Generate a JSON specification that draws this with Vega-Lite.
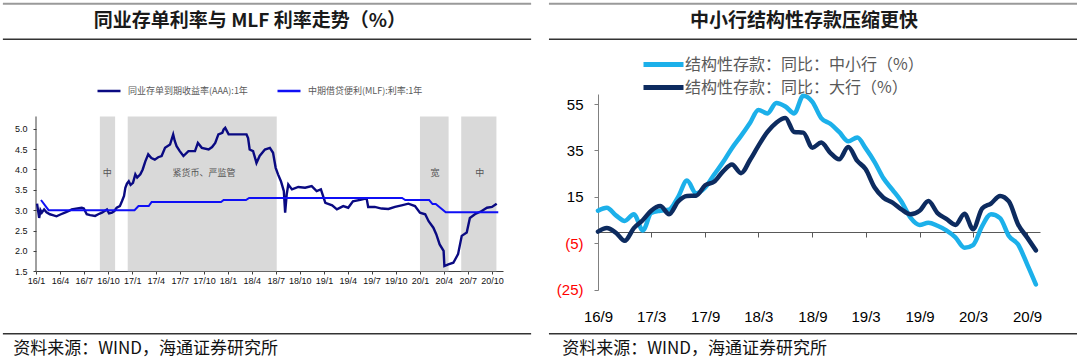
{
  "$schema": "https://vega.github.io/schema/vega-lite/v6.json",
  "autosize": {"type": "pad"},
  "padding": {"left": 1, "top": 2, "right": 2, "bottom": 2},
  "background": "white",
  "bounds": "flush",
  "spacing": 95,
  "resolve": {"scale": {"color": "independent", "x": "independent", "y": "independent"}, "legend": {"color": "independent"}},
  "config": {
    "view": {"stroke": null},
    "axis": {"grid": false, "title": null, "labelFont": "Liberation Sans", "labelOverlap": false, "labelBound": false, "labelSeparation": 0},
    "legend": {"labelFont": "Noto Sans CJK SC"}
  },
  "datasets": {
    "bands": [
      {"start": "2016-08-31", "end": "2016-10-28"},
      {"start": "2016-12-15", "end": "2018-07-05"},
      {"start": "2020-01-01", "end": "2020-04-19"},
      {"start": "2020-06-06", "end": "2020-10-18"}
    ],
    "notes": [
      {"date": "2016-09-28", "label": "中"},
      {"date": "2017-10-01", "label": "紧货币、严监管"},
      {"date": "2020-02-27", "label": "宽"},
      {"date": "2020-08-16", "label": "中"}
    ],
    "ncd": [
      {"date": "2016-01-05", "rate": 3.16}, {"date": "2016-01-13", "rate": 2.81}, {"date": "2016-01-18", "rate": 3.0},
      {"date": "2016-01-23", "rate": 2.94}, {"date": "2016-02-01", "rate": 3.02}, {"date": "2016-02-10", "rate": 2.95},
      {"date": "2016-02-23", "rate": 2.9}, {"date": "2016-03-05", "rate": 2.88}, {"date": "2016-03-19", "rate": 2.85},
      {"date": "2016-04-05", "rate": 2.9}, {"date": "2016-04-20", "rate": 2.94}, {"date": "2016-05-05", "rate": 2.98},
      {"date": "2016-05-16", "rate": 3.02}, {"date": "2016-06-01", "rate": 3.04}, {"date": "2016-06-23", "rate": 3.06},
      {"date": "2016-07-01", "rate": 3.04}, {"date": "2016-07-12", "rate": 2.9}, {"date": "2016-07-25", "rate": 2.88},
      {"date": "2016-08-13", "rate": 2.86}, {"date": "2016-08-25", "rate": 2.9}, {"date": "2016-09-08", "rate": 2.94},
      {"date": "2016-09-27", "rate": 3.02}, {"date": "2016-10-05", "rate": 2.92}, {"date": "2016-10-16", "rate": 2.94},
      {"date": "2016-10-25", "rate": 2.98}, {"date": "2016-11-03", "rate": 3.06}, {"date": "2016-11-15", "rate": 3.1},
      {"date": "2016-11-23", "rate": 3.22}, {"date": "2016-12-01", "rate": 3.35}, {"date": "2016-12-06", "rate": 3.55},
      {"date": "2016-12-12", "rate": 3.65}, {"date": "2016-12-19", "rate": 3.71}, {"date": "2016-12-26", "rate": 3.62},
      {"date": "2017-01-04", "rate": 3.67}, {"date": "2017-01-13", "rate": 3.88}, {"date": "2017-01-20", "rate": 3.8},
      {"date": "2017-02-01", "rate": 3.88}, {"date": "2017-02-10", "rate": 4.0}, {"date": "2017-02-20", "rate": 4.2},
      {"date": "2017-03-03", "rate": 4.37}, {"date": "2017-03-15", "rate": 4.28}, {"date": "2017-03-28", "rate": 4.24},
      {"date": "2017-04-10", "rate": 4.3}, {"date": "2017-04-23", "rate": 4.33}, {"date": "2017-05-06", "rate": 4.53},
      {"date": "2017-05-25", "rate": 4.61}, {"date": "2017-06-06", "rate": 4.86}, {"date": "2017-06-12", "rate": 4.7},
      {"date": "2017-06-19", "rate": 4.57}, {"date": "2017-07-01", "rate": 4.45}, {"date": "2017-07-15", "rate": 4.33},
      {"date": "2017-08-03", "rate": 4.45}, {"date": "2017-08-28", "rate": 4.45}, {"date": "2017-09-08", "rate": 4.65},
      {"date": "2017-09-23", "rate": 4.53}, {"date": "2017-10-19", "rate": 4.49}, {"date": "2017-11-01", "rate": 4.55},
      {"date": "2017-11-13", "rate": 4.65}, {"date": "2017-11-25", "rate": 4.86}, {"date": "2017-12-10", "rate": 4.9},
      {"date": "2017-12-15", "rate": 4.98}, {"date": "2017-12-21", "rate": 5.02}, {"date": "2018-01-03", "rate": 4.86},
      {"date": "2018-01-28", "rate": 4.86}, {"date": "2018-03-12", "rate": 4.86}, {"date": "2018-03-18", "rate": 4.77},
      {"date": "2018-03-24", "rate": 4.49}, {"date": "2018-04-06", "rate": 4.45}, {"date": "2018-04-19", "rate": 4.16},
      {"date": "2018-05-01", "rate": 4.33}, {"date": "2018-05-21", "rate": 4.49}, {"date": "2018-06-09", "rate": 4.53},
      {"date": "2018-06-21", "rate": 4.41}, {"date": "2018-07-01", "rate": 4.04}, {"date": "2018-07-10", "rate": 3.88},
      {"date": "2018-07-21", "rate": 3.71}, {"date": "2018-08-01", "rate": 3.47}, {"date": "2018-08-06", "rate": 2.94},
      {"date": "2018-08-12", "rate": 3.39}, {"date": "2018-08-18", "rate": 3.63}, {"date": "2018-09-01", "rate": 3.51},
      {"date": "2018-09-25", "rate": 3.57}, {"date": "2018-10-21", "rate": 3.55}, {"date": "2018-11-15", "rate": 3.59},
      {"date": "2018-12-04", "rate": 3.47}, {"date": "2018-12-20", "rate": 3.51}, {"date": "2019-01-06", "rate": 3.18},
      {"date": "2019-02-01", "rate": 3.12}, {"date": "2019-02-19", "rate": 3.02}, {"date": "2019-03-15", "rate": 3.1},
      {"date": "2019-04-03", "rate": 3.06}, {"date": "2019-04-21", "rate": 3.22}, {"date": "2019-05-23", "rate": 3.26},
      {"date": "2019-06-12", "rate": 3.29}, {"date": "2019-06-18", "rate": 3.08}, {"date": "2019-07-13", "rate": 3.08},
      {"date": "2019-08-08", "rate": 3.04}, {"date": "2019-09-03", "rate": 3.03}, {"date": "2019-09-28", "rate": 3.08},
      {"date": "2019-10-23", "rate": 3.12}, {"date": "2019-11-18", "rate": 3.16}, {"date": "2019-12-13", "rate": 3.1},
      {"date": "2020-01-01", "rate": 2.94}, {"date": "2020-01-21", "rate": 2.9}, {"date": "2020-02-03", "rate": 2.73},
      {"date": "2020-02-21", "rate": 2.57}, {"date": "2020-03-03", "rate": 2.41}, {"date": "2020-03-16", "rate": 2.16},
      {"date": "2020-03-31", "rate": 2.0}, {"date": "2020-04-03", "rate": 1.63}, {"date": "2020-04-18", "rate": 1.67},
      {"date": "2020-05-07", "rate": 1.71}, {"date": "2020-05-25", "rate": 1.92}, {"date": "2020-06-08", "rate": 2.37},
      {"date": "2020-06-27", "rate": 2.45}, {"date": "2020-07-09", "rate": 2.81}, {"date": "2020-07-28", "rate": 2.9},
      {"date": "2020-08-23", "rate": 2.98}, {"date": "2020-09-12", "rate": 3.06}, {"date": "2020-10-01", "rate": 3.08},
      {"date": "2020-10-19", "rate": 3.16}
    ],
    "mlf": [
      {"date": "2016-01-20", "rate": 3.25}, {"date": "2016-02-18", "rate": 3.0}, {"date": "2017-01-10", "rate": 3.0},
      {"date": "2017-01-25", "rate": 3.1}, {"date": "2017-03-05", "rate": 3.1}, {"date": "2017-03-16", "rate": 3.2},
      {"date": "2017-12-05", "rate": 3.2}, {"date": "2017-12-15", "rate": 3.25}, {"date": "2018-03-10", "rate": 3.25},
      {"date": "2018-03-22", "rate": 3.3}, {"date": "2019-10-25", "rate": 3.3}, {"date": "2019-11-06", "rate": 3.25},
      {"date": "2020-02-05", "rate": 3.25}, {"date": "2020-02-18", "rate": 3.15}, {"date": "2020-03-01", "rate": 3.15},
      {"date": "2020-04-08", "rate": 2.95}, {"date": "2020-10-25", "rate": 2.95}
    ],
    "deposits": [
      {"date": "2016-09-01", "small": 9, "large": 0}, {"date": "2016-10-01", "small": 10.3, "large": 1.5},
      {"date": "2016-11-01", "small": 7, "large": -0.5}, {"date": "2016-12-01", "small": 4.6, "large": -4},
      {"date": "2017-01-01", "small": 7.5, "large": 1.5}, {"date": "2017-02-01", "small": 0.5, "large": 5},
      {"date": "2017-03-01", "small": 8, "large": 9}, {"date": "2017-04-01", "small": 9, "large": 11},
      {"date": "2017-05-01", "small": 9.5, "large": 7.5}, {"date": "2017-06-01", "small": 15, "large": 13},
      {"date": "2017-07-01", "small": 22, "large": 15.4}, {"date": "2017-08-01", "small": 16.5, "large": 15.5},
      {"date": "2017-09-01", "small": 19, "large": 20}, {"date": "2017-10-01", "small": 24.5, "large": 21.5},
      {"date": "2017-11-01", "small": 30, "large": 26}, {"date": "2017-12-01", "small": 36, "large": 29},
      {"date": "2018-01-01", "small": 41.3, "large": 25.2}, {"date": "2018-02-01", "small": 47, "large": 31},
      {"date": "2018-03-01", "small": 52.5, "large": 37}, {"date": "2018-04-01", "small": 51, "large": 43},
      {"date": "2018-05-01", "small": 55.5, "large": 47}, {"date": "2018-06-01", "small": 54, "large": 49},
      {"date": "2018-07-01", "small": 51, "large": 43}, {"date": "2018-08-01", "small": 58.6, "large": 42.7},
      {"date": "2018-09-01", "small": 56, "large": 36.2}, {"date": "2018-10-01", "small": 49, "large": 38.4},
      {"date": "2018-11-01", "small": 46.5, "large": 34}, {"date": "2018-12-01", "small": 43, "large": 31.2},
      {"date": "2019-01-01", "small": 39, "large": 36.5}, {"date": "2019-02-01", "small": 40.6, "large": 30.5},
      {"date": "2019-03-01", "small": 36, "large": 27}, {"date": "2019-04-01", "small": 30, "large": 19},
      {"date": "2019-05-01", "small": 23, "large": 14.6}, {"date": "2019-06-01", "small": 18, "large": 12.5},
      {"date": "2019-07-01", "small": 13, "large": 9.6}, {"date": "2019-08-01", "small": 6, "large": 7.5},
      {"date": "2019-09-01", "small": 2.9, "large": 9}, {"date": "2019-10-01", "small": 3.8, "large": 13.2},
      {"date": "2019-11-01", "small": 2.5, "large": 8}, {"date": "2019-12-01", "small": 0.5, "large": 5.5},
      {"date": "2020-01-01", "small": -2.5, "large": 2.9}, {"date": "2020-02-01", "small": -7, "large": 7.7},
      {"date": "2020-03-01", "small": -5.8, "large": 1}, {"date": "2020-04-01", "small": 2.4, "large": 10},
      {"date": "2020-05-01", "small": 7.5, "large": 12.1}, {"date": "2020-06-01", "small": 5.8, "large": 15.4},
      {"date": "2020-07-01", "small": -1.9, "large": 13}, {"date": "2020-08-01", "small": -5.5, "large": 3.2},
      {"date": "2020-09-01", "small": -14, "large": -2.5}, {"date": "2020-10-01", "small": -22.8, "large": -8.1}
    ]
  },
  "hconcat": [
    {
      "width": 467,
      "height": 196,
      "layer": [
        {
          "data": {"name": "bands"},
          "mark": {"type": "rect", "color": "#D9D9D9"},
          "encoding": {
            "x": {
              "field": "start", "type": "temporal",
              "scale": {"type": "utc", "domain": [{"year": 2016, "month": 1, "date": 1, "utc": true}, {"year": 2020, "month": 11, "date": 12, "utc": true}]}
            },
            "x2": {"field": "end"},
            "y": {
              "datum": 1.5, "type": "quantitative",
              "scale": {"domain": [1.041, 5.852], "nice": false, "zero": false}
            },
            "y2": {"datum": 5.3}
          }
        },
        {
          "data": {"values": [{}]},
          "mark": {"type": "rule", "color": "#404040", "strokeWidth": 1},
          "encoding": {
            "x": {"datum": {"year": 2016, "month": 1, "date": 1, "utc": true}, "type": "temporal"},
            "y": {"datum": 1.5, "type": "quantitative"},
            "y2": {"datum": 5.3}
          }
        },
        {
          "data": {"name": "notes"},
          "mark": {"type": "text", "font": "Noto Sans CJK SC", "fontSize": 9, "color": "#555555"},
          "encoding": {
            "x": {"field": "date", "type": "temporal"},
            "y": {"datum": 3.92, "type": "quantitative"},
            "text": {"field": "label"}
          }
        },
        {
          "data": {"name": "ncd"},
          "mark": {"type": "line", "strokeWidth": 2.4},
          "encoding": {
            "x": {
              "field": "date", "type": "temporal",
              "axis": {
                "values": [
                  {"year": 2016, "month": 1, "date": 1, "utc": true}, {"year": 2016, "month": 4, "date": 1, "utc": true},
                  {"year": 2016, "month": 7, "date": 1, "utc": true}, {"year": 2016, "month": 10, "date": 1, "utc": true},
                  {"year": 2017, "month": 1, "date": 1, "utc": true}, {"year": 2017, "month": 4, "date": 1, "utc": true},
                  {"year": 2017, "month": 7, "date": 1, "utc": true}, {"year": 2017, "month": 10, "date": 1, "utc": true},
                  {"year": 2018, "month": 1, "date": 1, "utc": true}, {"year": 2018, "month": 4, "date": 1, "utc": true},
                  {"year": 2018, "month": 7, "date": 1, "utc": true}, {"year": 2018, "month": 10, "date": 1, "utc": true},
                  {"year": 2019, "month": 1, "date": 1, "utc": true}, {"year": 2019, "month": 4, "date": 1, "utc": true},
                  {"year": 2019, "month": 7, "date": 1, "utc": true}, {"year": 2019, "month": 10, "date": 1, "utc": true},
                  {"year": 2020, "month": 1, "date": 1, "utc": true}, {"year": 2020, "month": 4, "date": 1, "utc": true},
                  {"year": 2020, "month": 7, "date": 1, "utc": true}, {"year": 2020, "month": 10, "date": 1, "utc": true}
                ],
                "tickCount": 40,
                "format": "%y/%-m",
                "offset": -19,
                "tickSize": 3,
                "tickColor": "#404040",
                "domainColor": "#404040",
                "labelFontSize": 9,
                "labelColor": "#111111",
                "labelPadding": 2,
                "labelFlush": false,
                "labelOverlap": false
              }
            },
            "y": {
              "field": "rate", "type": "quantitative",
              "axis": {
                "values": [1.5, 2, 2.5, 3, 3.5, 4, 4.5, 5],
                "tickCount": 20,
                "format": ".1f",
                "domain": false,
                "tickSize": 3,
                "tickColor": "#404040",
                "labelFontSize": 9,
                "labelColor": "#111111",
                "labelPadding": 6,
                "labelOverlap": false
              }
            },
            "color": {
              "datum": "同业存单到期收益率(AAA):1年",
              "scale": {"domain": ["同业存单到期收益率(AAA):1年", "中期借贷便利(MLF):利率:1年"], "range": ["#0A0A82", "#0F0FF5"]},
              "legend": {
                "orient": "none", "legendX": 60, "legendY": -16, "direction": "horizontal",
                "title": null, "padding": 0,
                "symbolType": "stroke", "symbolSize": 529, "symbolStrokeWidth": 2.5,
                "labelFontSize": 9, "labelColor": "#595959", "labelOffset": 6, "columnPadding": 24, "labelLimit": 300
              }
            }
          }
        },
        {
          "data": {"name": "mlf"},
          "mark": {"type": "line", "strokeWidth": 2},
          "encoding": {
            "x": {"field": "date", "type": "temporal"},
            "y": {"field": "rate", "type": "quantitative"},
            "color": {"datum": "中期借贷便利(MLF):利率:1年"}
          }
        },
        {
          "data": {"values": [{}]},
          "layer": [
            {
              "mark": {"type": "rule", "color": "#9A9A9A", "strokeWidth": 2},
              "encoding": {
                "x": {"datum": {"year": 2015, "month": 8, "date": 28, "utc": true}, "type": "temporal"},
                "x2": {"datum": {"year": 2021, "month": 2, "date": 27, "utc": true}},
                "y": {"datum": 8.068, "type": "quantitative"}
              }
            },
            {
              "mark": {"type": "rule", "color": "#333333", "strokeWidth": 1.5},
              "encoding": {
                "x": {"datum": {"year": 2015, "month": 8, "date": 28, "utc": true}, "type": "temporal"},
                "x2": {"datum": {"year": 2021, "month": 2, "date": 27, "utc": true}},
                "y": {"datum": 7.195, "type": "quantitative"}
              }
            },
            {
              "mark": {"type": "rule", "color": "#333333", "strokeWidth": 1.5},
              "encoding": {
                "x": {"datum": {"year": 2015, "month": 8, "date": 28, "utc": true}, "type": "temporal"},
                "x2": {"datum": {"year": 2021, "month": 2, "date": 27, "utc": true}},
                "y": {"datum": -0.032, "type": "quantitative"}
              }
            },
            {
              "mark": {"type": "text", "font": "Noto Sans CJK SC", "fontSize": 19, "fontWeight": "bold", "color": "#1A1A1A", "align": "center", "baseline": "middle"},
              "encoding": {
                "x": {"datum": {"year": 2018, "month": 3, "date": 25, "utc": true}, "type": "temporal"},
                "y": {"datum": 7.644, "type": "quantitative"},
                "text": {"value": "同业存单利率与 MLF 利率走势（%）"}
              }
            },
            {
              "mark": {"type": "text", "font": "Noto Sans CJK SC", "fontSize": 17, "color": "#111111", "align": "left", "baseline": "middle"},
              "encoding": {
                "x": {"datum": {"year": 2015, "month": 10, "date": 6, "utc": true}, "type": "temporal"},
                "y": {"datum": -0.407, "type": "quantitative"},
                "text": {"value": "资料来源：WIND，海通证券研究所"}
              }
            }
          ]
        }
      ]
    },
    {
      "width": 442,
      "height": 196,
      "layer": [
        {
          "data": {"name": "deposits"},
          "mark": {"type": "line", "strokeWidth": 4.5, "strokeCap": "round", "strokeJoin": "round", "interpolate": "monotone"},
          "encoding": {
            "x": {
              "field": "date", "type": "temporal",
              "scale": {"type": "utc", "domain": [{"year": 2016, "month": 9, "date": 1, "utc": true}, {"year": 2020, "month": 10, "date": 15, "utc": true}]},
              "axis": {
                "values": [
                  {"year": 2016, "month": 9, "date": 1, "utc": true}, {"year": 2017, "month": 3, "date": 1, "utc": true},
                  {"year": 2017, "month": 9, "date": 1, "utc": true}, {"year": 2018, "month": 3, "date": 1, "utc": true},
                  {"year": 2018, "month": 9, "date": 1, "utc": true}, {"year": 2019, "month": 3, "date": 1, "utc": true},
                  {"year": 2019, "month": 9, "date": 1, "utc": true}, {"year": 2020, "month": 3, "date": 1, "utc": true},
                  {"year": 2020, "month": 9, "date": 1, "utc": true}
                ],
                "tickCount": 20,
                "format": "%y/%-m",
                "offset": -58,
                "tickSize": 5,
                "tickColor": "#595959",
                "domainColor": "#595959",
                "domainWidth": 1.2,
                "labelFontSize": 15,
                "labelColor": "#000000",
                "labelPadding": 72,
                "labelFlush": false,
                "labelOverlap": false
              }
            },
            "y": {
              "field": "small", "type": "quantitative",
              "scale": {"domain": [-25.2, 59.37], "nice": false, "zero": false},
              "axis": {
                "values": [-25, -5, 15, 35, 55],
                "tickCount": 10,
                "labelExpr": "datum.value < 0 ? '(' + abs(datum.value) + ')' : datum.label",
                "labelColor": {"condition": {"test": "datum.value < 0", "value": "#FF0000"}, "value": "#000000"},
                "labelFontSize": 15,
                "labelPadding": 11,
                "tickSize": 4,
                "tickColor": "#808080",
                "domainColor": "#808080"
              }
            },
            "color": {
              "datum": "结构性存款：同比：中小行（%）",
              "scale": {"domain": ["结构性存款：同比：中小行（%）", "结构性存款：同比：大行（%）"], "range": ["#1CB0EA", "#0D2B5F"]},
              "legend": {
                "orient": "none", "legendX": 53, "legendY": -42, "direction": "vertical",
                "title": null, "padding": 0,
                "symbolType": "M-2,0L2,0", "symbolSize": 400, "symbolStrokeWidth": 5,
                "labelFontSize": 16, "labelColor": "#595959", "labelOffset": 9, "rowPadding": -9, "labelLimit": 400
              }
            }
          }
        },
        {
          "data": {"name": "deposits"},
          "mark": {"type": "line", "strokeWidth": 4.5, "strokeCap": "round", "strokeJoin": "round", "interpolate": "monotone"},
          "encoding": {
            "x": {"field": "date", "type": "temporal"},
            "y": {"field": "large", "type": "quantitative"},
            "color": {"datum": "结构性存款：同比：大行（%）"}
          }
        },
        {
          "data": {"values": [{}]},
          "layer": [
            {
              "mark": {"type": "rule", "color": "#9A9A9A", "strokeWidth": 2},
              "encoding": {
                "x": {"datum": {"year": 2016, "month": 3, "date": 18, "utc": true}, "type": "temporal"},
                "x2": {"datum": {"year": 2021, "month": 2, "date": 18, "utc": true}},
                "y": {"datum": 98.34, "type": "quantitative"}
              }
            },
            {
              "mark": {"type": "rule", "color": "#333333", "strokeWidth": 1.5},
              "encoding": {
                "x": {"datum": {"year": 2016, "month": 3, "date": 18, "utc": true}, "type": "temporal"},
                "x2": {"datum": {"year": 2021, "month": 2, "date": 18, "utc": true}},
                "y": {"datum": 82.98, "type": "quantitative"}
              }
            },
            {
              "mark": {"type": "rule", "color": "#333333", "strokeWidth": 1.5},
              "encoding": {
                "x": {"datum": {"year": 2016, "month": 3, "date": 18, "utc": true}, "type": "temporal"},
                "x2": {"datum": {"year": 2021, "month": 2, "date": 18, "utc": true}},
                "y": {"datum": -44.06, "type": "quantitative"}
              }
            },
            {
              "mark": {"type": "text", "font": "Noto Sans CJK SC", "fontSize": 19, "fontWeight": "bold", "color": "#1A1A1A", "align": "center", "baseline": "middle"},
              "encoding": {
                "x": {"datum": {"year": 2018, "month": 8, "date": 3, "utc": true}, "type": "temporal"},
                "y": {"datum": 90.87, "type": "quantitative"},
                "text": {"value": "中小行结构性存款压缩更快"}
              }
            },
            {
              "mark": {"type": "text", "font": "Noto Sans CJK SC", "fontSize": 17, "color": "#111111", "align": "left", "baseline": "middle"},
              "encoding": {
                "x": {"datum": {"year": 2016, "month": 5, "date": 2, "utc": true}, "type": "temporal"},
                "y": {"datum": -50.66, "type": "quantitative"},
                "text": {"value": "资料来源：WIND，海通证券研究所"}
              }
            }
          ]
        }
      ]
    }
  ]
}
